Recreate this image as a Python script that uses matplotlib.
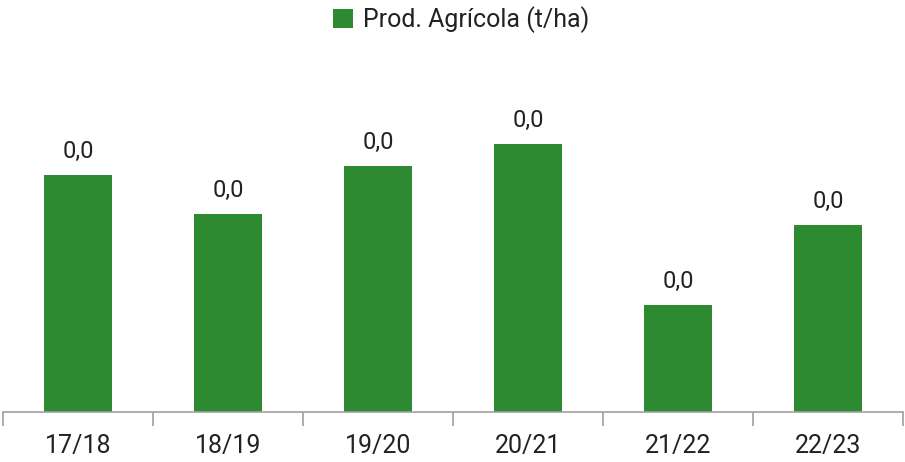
import matplotlib.pyplot as plt

plt.rcParams['font.family'] = ['Roboto', 'DejaVu Sans']

safras = ['17/18', '18/19', '19/20', '20/21', '21/22', '22/23']
prod = [0.0237, 0.0198, 0.0246, 0.0268, 0.0107, 0.0187]
cor = '#2e8a30'

fig = plt.figure(figsize=(9.05, 4.62), dpi=100)
ax = fig.add_axes([3 / 905, 50 / 462, 900 / 905, 352 / 462])

x = range(len(safras))
barras = ax.bar(x, prod, width=0.45, color=cor, label='Prod. Agrícola (t/ha)')
ax.bar_label(barras, labels=[f'{v:.1f}'.replace('.', ',') for v in prod],
             padding=9, fontsize=17, color='#222222')

ax.set_xlim(-0.5, len(safras) - 0.5)
ax.set_ylim(0, 0.0352)
ax.set_xticks(list(x))
ax.set_xticklabels(safras, fontsize=18, color='#222222')
ax.set_xticks([i - 0.5 for i in range(len(safras) + 1)], minor=True)
ax.tick_params(axis='x', which='major', length=0, pad=16)
ax.tick_params(axis='x', which='minor', length=10, color='#a0a0a0', width=1.2)
ax.set_yticks([])
for lado in ['top', 'right', 'left']:
    ax.spines[lado].set_visible(False)
ax.spines['bottom'].set_color('#a0a0a0')
ax.spines['bottom'].set_linewidth(1.2)

fig.legend(loc='upper center', bbox_to_anchor=(0.51, 1.035), frameon=False,
           fontsize=18, handlelength=0.8, handleheight=0.8, handletextpad=0.4,
           labelcolor='#222222')

fig.savefig('out.png', dpi=100)
